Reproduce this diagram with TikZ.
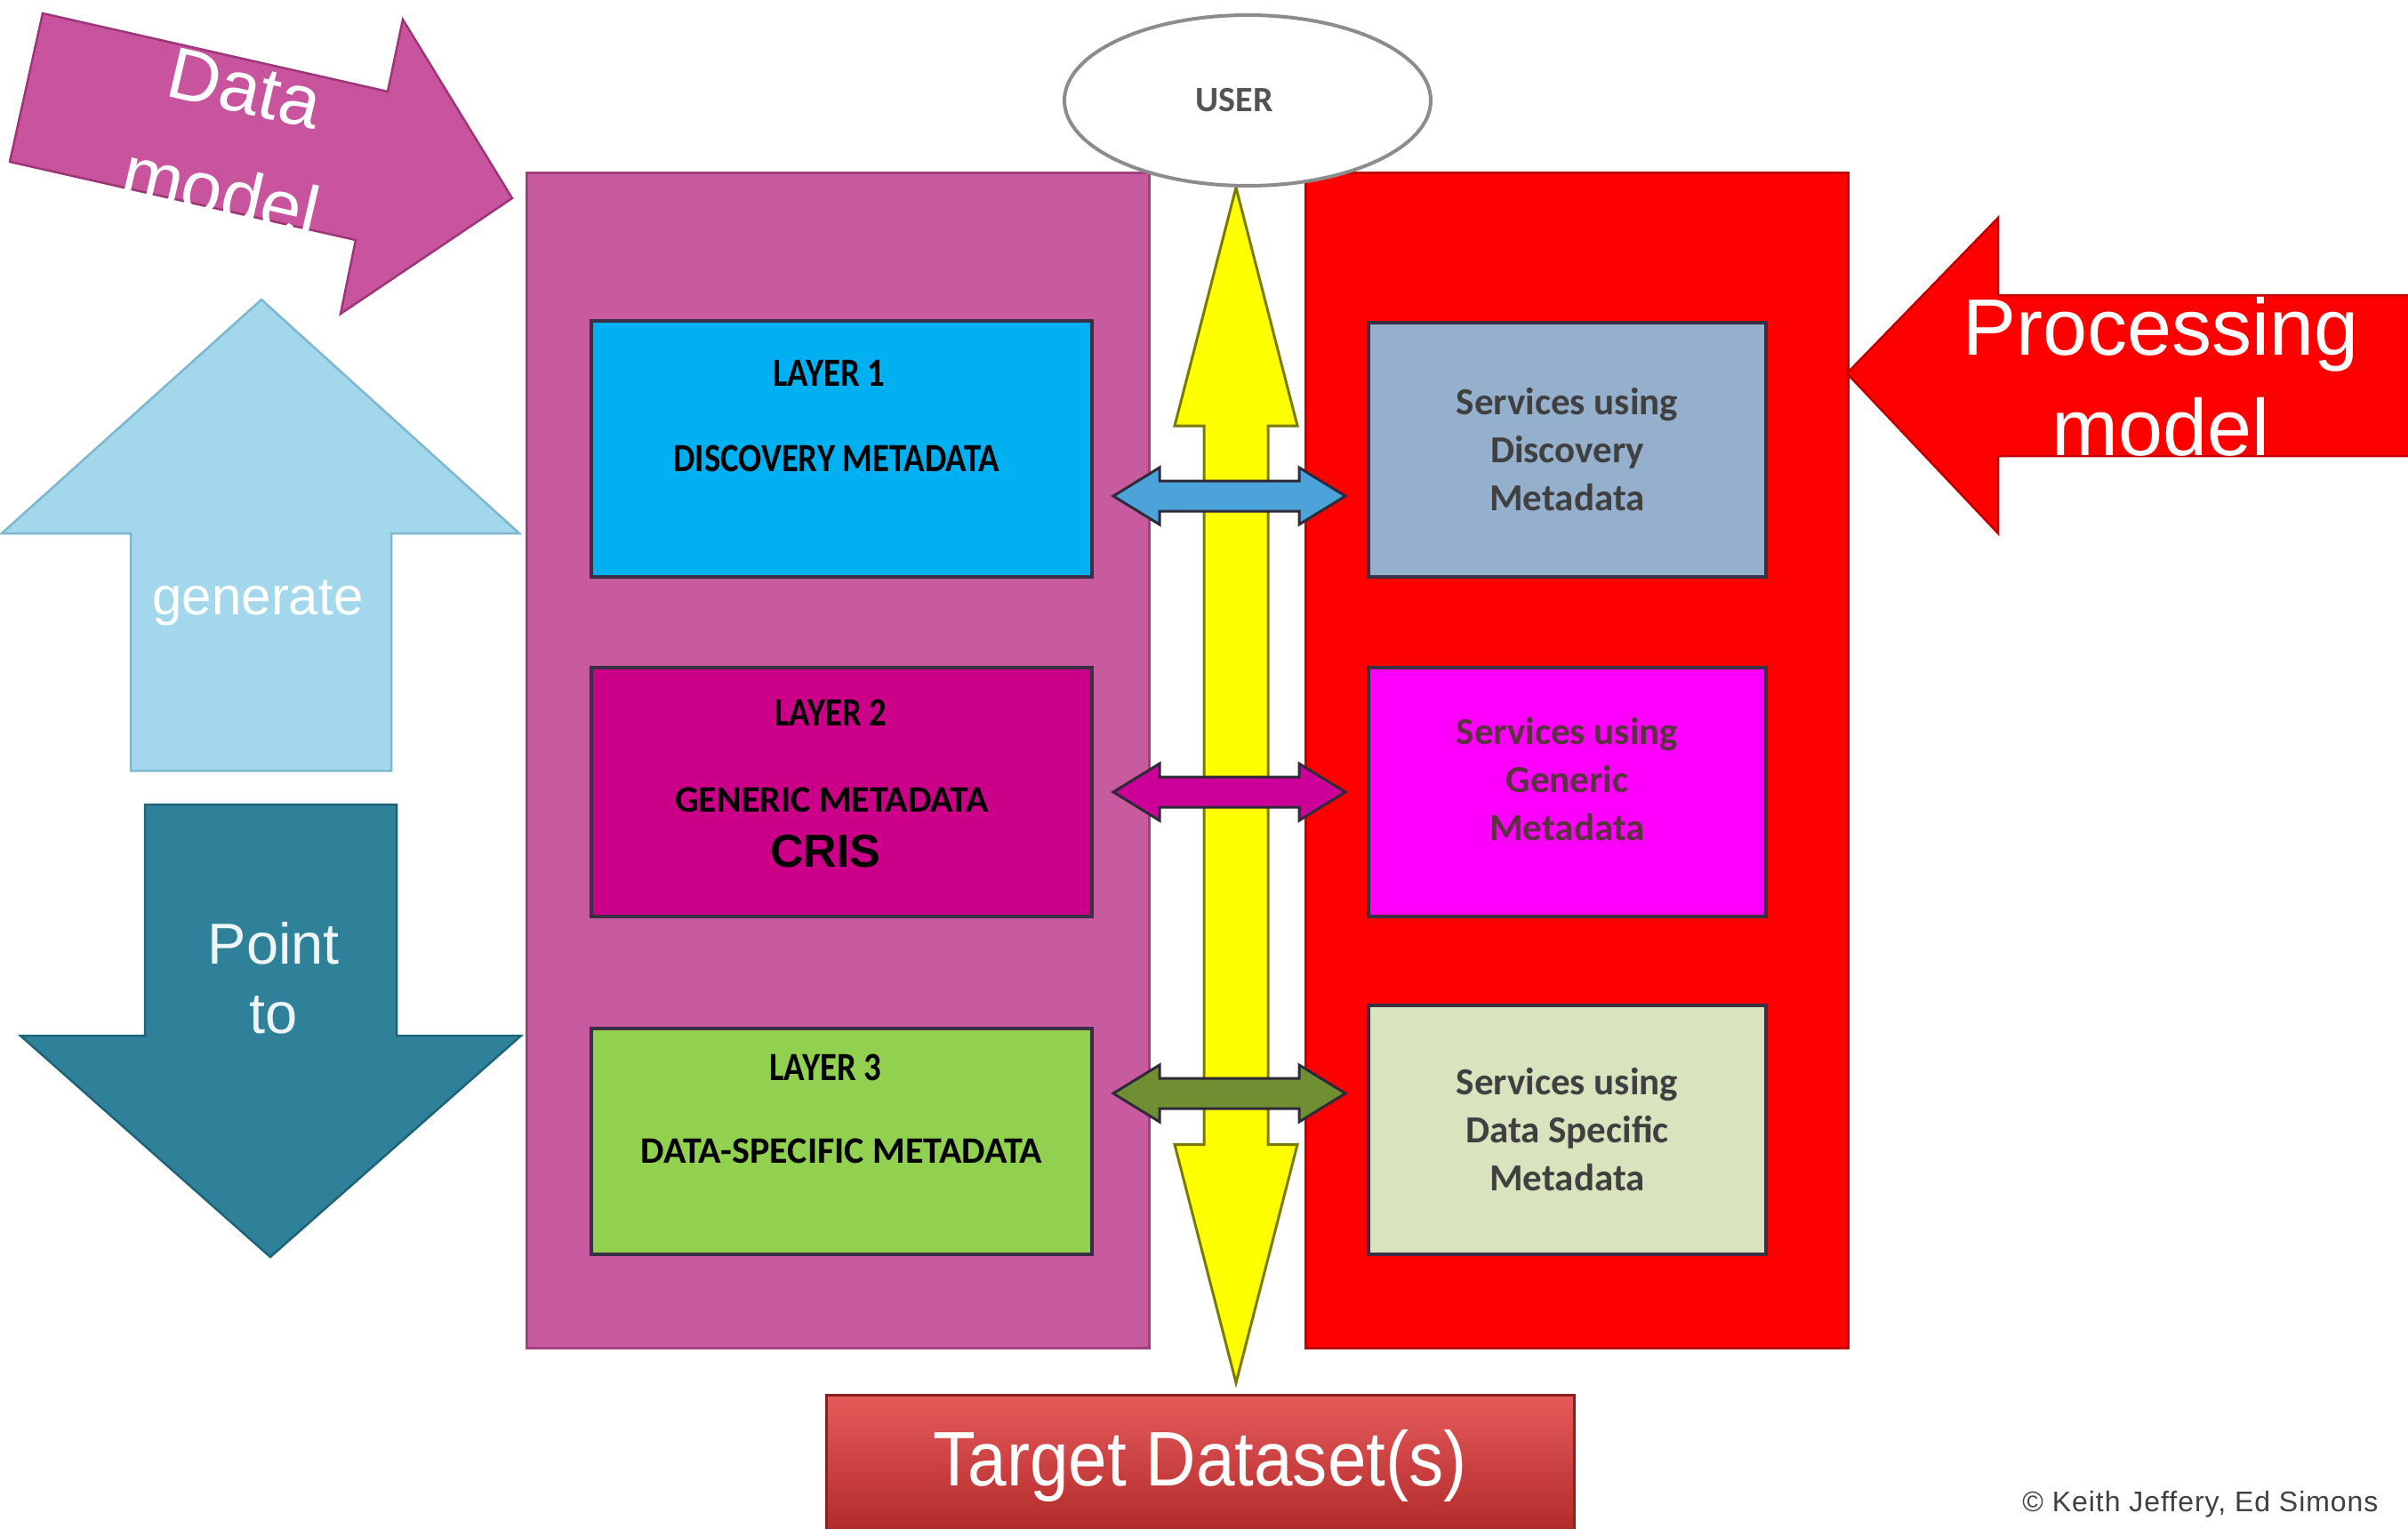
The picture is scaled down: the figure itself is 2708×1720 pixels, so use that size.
\documentclass[tikz,border=0pt]{standalone}
\usepackage{fontspec}
\setmainfont{Liberation Sans}
\newfontfamily\calfont{Carlito}
\newfontfamily\calcond[FakeStretch=0.86]{Carlito}
\newfontfamily\narrowfont[FakeStretch=0.9]{Liberation Sans}
\usetikzlibrary{calc,shapes.geometric}

\definecolor{panelpink}{HTML}{C85AA0}
\definecolor{panelpinkedge}{HTML}{A23F7F}
\definecolor{panelred}{HTML}{FF0000}
\definecolor{panelrededge}{HTML}{C00000}
\definecolor{dmarrow}{HTML}{C9549E}
\definecolor{dmedge}{HTML}{9E3579}
\definecolor{genblue}{HTML}{A3D8EC}
\definecolor{genedge}{HTML}{7DB6CE}
\definecolor{ptteal}{HTML}{2E8199}
\definecolor{ptedge}{HTML}{1D6479}
\definecolor{layone}{HTML}{00B0F0}
\definecolor{laytwo}{HTML}{CC0088}
\definecolor{laythree}{HTML}{92D050}
\definecolor{svcone}{HTML}{95B0CC}
\definecolor{svctwo}{HTML}{FF00FF}
\definecolor{svcthree}{HTML}{D7E4BD}
\definecolor{boxedge}{HTML}{3A2F45}
\definecolor{svctext}{HTML}{404040}
\definecolor{yfill}{HTML}{FFFF00}
\definecolor{yedge}{HTML}{7A7A00}
\definecolor{lkblue}{HTML}{4BA3D9}
\definecolor{lkmag}{HTML}{CC0099}
\definecolor{lkgreen}{HTML}{6F8F32}
\definecolor{linkedge}{HTML}{2F2A3A}
\definecolor{tgtop}{HTML}{E65A5A}
\definecolor{tgbottom}{HTML}{B02828}
\definecolor{tgedge}{HTML}{8E1F1F}
\definecolor{userline}{HTML}{8C8C8C}

\pgfdeclarelayer{background}
\pgfsetlayers{background,main}

% double-headed horizontal link between a layer and its services
\newcommand\linkarrow[3]{%
  \path[linkstyle,fill=#3]
    (#1) -- ($(#1)+(52,-32)$) -- ($(#1)+(52,-17)$)
    -- ($(#2)+(-52,-17)$) -- ($(#2)+(-52,-32)$) -- (#2)
    -- ($(#2)+(-52,32)$) -- ($(#2)+(-52,17)$)
    -- ($(#1)+(52,17)$) -- ($(#1)+(52,32)$) -- cycle;}

\begin{document}
\begin{tikzpicture}[x=1pt, y=-1pt,
  panel/.style={rectangle, inner sep=0pt, line width=3pt},
  layerbox/.style={rectangle, inner sep=0pt, draw=boxedge, line width=4pt,
    minimum width=563pt},
  svcfont/.style={align=center, text=svctext,
    font=\calfont\bfseries\fontsize{43}{54}\selectfont},
  svcbox/.style={rectangle, inner sep=0pt, draw=boxedge, line width=4pt,
    minimum width=447pt, minimum height=280pt, svcfont},
  laytitle/.style={anchor=base, font=\calcond\bfseries\fontsize{45}{50}\selectfont},
  laysub/.style={anchor=base, font=\calfont\bfseries\fontsize{42}{50}\selectfont},
  bigarrow/.style={line width=2.5pt, line join=miter},
  linkstyle/.style={draw=linkedge, line width=3pt, line join=miter},
  arrowtext/.style={text=white, align=center, inner sep=0pt},
]
\useasboundingbox (0,0) rectangle (2708,1720);

% the two columns
\node[panel, fill=panelpink, draw=panelpinkedge, minimum width=700pt,
  minimum height=1321pt] (datapanel) at (942,855.5) {};
\node[panel, fill=panelred, draw=panelrededge, minimum width=610pt,
  minimum height=1321pt] (procpanel) at (1773,855.5) {};

% metadata layers
\node[layerbox, fill=layone, minimum height=288pt] (L1) at (946.5,505) {};
\node[layerbox, fill=laytwo, minimum height=280pt] (L2) at (946.5,891) {};
\node[layerbox, fill=laythree, minimum height=254pt] (L3) at (946.5,1284) {};

\node[laytitle] (L1t) at ($(L1.north)+(-14,75)$) {LAYER 1};
\node[laytitle] (L1s) at ($(L1.north)+(-6,171)$) {DISCOVERY METADATA};
\node[laytitle] (L2t) at ($(L2.north)+(-12,67)$) {LAYER 2};
\node[laysub] (L2s) at ($(L2.north)+(-11,164)$) {GENERIC METADATA};
\node[anchor=base, font=\bfseries\fontsize{52}{56}\selectfont]
  (L2c) at ($(L2.north)+(-18,226)$) {CRIS};
\node[laytitle] (L3t) at ($(L3.north)+(-18,60)$) {LAYER 3};
\node[laysub] (L3s) at ($(L3.north)+(0,153)$) {DATA-SPECIFIC METADATA};

% services
\node[svcbox, fill=svcone, minimum height=286pt] (S1) at (1762.5,506)
  {Services using\\Discovery\\Metadata};
\node[svcbox, fill=svctwo] (S2) at (1762.5,891) {};
\node[svcfont, text=svctext!80!purple] (S2t) at ($(S2.center)+(0,-14)$)
  {Services using\\Generic\\Metadata};
\node[svcbox, fill=svcthree] (S3) at (1762.5,1271)
  {Services using\\Data Specific\\Metadata};

% data model arrow
\path[bigarrow, fill=dmarrow, draw=dmedge]
  (48,15) -- (436,103) -- (453,22) -- (576,223) -- (383,353) -- (400,270)
  -- (11,182) -- cycle;
\node[arrowtext, rotate=-13, font=\fontsize{82}{120}\selectfont]
  (dmtext) at (262,158) {Data\\model};

% generate arrow
\path[bigarrow, fill=genblue, draw=genedge]
  (294,337) -- (584,600) -- (440,600) -- (440,867) -- (147,867)
  -- (147,600) -- (2,600) -- cycle;
\node[anchor=base, text=white, font=\fontsize{60}{70}\selectfont]
  (gentext) at (290,691) {generate};

% point-to arrow
\path[bigarrow, fill=ptteal, draw=ptedge]
  (163,905) -- (446,905) -- (446,1165) -- (586,1165) -- (304,1414)
  -- (23,1165) -- (163,1165) -- cycle;
\node[arrowtext, text=white!92!ptteal, font=\fontsize{65}{78}\selectfont]
  (pttext) at (308,1100) {Point\\to};

% processing model arrow
\path[bigarrow, fill=panelred, draw=panelrededge]
  (2077,420) -- (2247,245) -- (2247,332) -- (2712,332) -- (2712,513)
  -- (2247,513) -- (2247,600) -- cycle;
\node[arrowtext, font=\fontsize{90}{113}\selectfont]
  (pmtext) at (2430,424) {Processing\\model};

% user and target
\node[ellipse, fill=white, draw=userline, line width=4pt, inner sep=0pt,
  minimum width=412pt, minimum height=192pt, text=svctext!90!white,
  font=\calfont\bfseries\fontsize{40}{44}\selectfont]
  (user) at (1403,113) {\hspace*{-30pt}USER};
\node[rectangle, top color=tgtop, bottom color=tgbottom, draw=tgedge,
  line width=3pt, inner sep=0pt, minimum width=841pt, minimum height=160pt,
  text=white, font=\narrowfont\fontsize{87}{90}\selectfont]
  (target) at (1349.5,1649) {Target Dataset(s)};

% access path from the user down to the target datasets
\coordinate (yt) at ($(user.south)+(-13,0)$);
\coordinate (yb) at ($(yt |- target.north)+(0,-12)$);
\begin{pgfonlayer}{background}
\path[fill=yfill, draw=yedge, line width=3pt, line join=miter]
  (yt) -- ($(yt)+(69,268)$) -- ($(yt)+(36,268)$) -- ($(yb)+(36,-268)$)
  -- ($(yb)+(69,-268)$) -- (yb) -- ($(yb)+(-69,-268)$) -- ($(yb)+(-36,-268)$)
  -- ($(yt)+(-36,268)$) -- ($(yt)+(-69,268)$) -- cycle;
\end{pgfonlayer}

% links between layers and services
\coordinate (a1l) at ($(L1.east)+(22,53)$);
\coordinate (a1r) at ($(a1l -| S1.west)+(-24,0)$);
\coordinate (a2l) at ($(L2.east)+(22,0)$);
\coordinate (a2r) at ($(a2l -| S2.west)+(-24,0)$);
\coordinate (a3l) at ($(L3.east)+(22,-54)$);
\coordinate (a3r) at ($(a3l -| S3.west)+(-24,0)$);
\linkarrow{a1l}{a1r}{lkblue}
\linkarrow{a2l}{a2r}{lkmag}
\linkarrow{a3l}{a3r}{lkgreen}

% credit line
\node[anchor=base east, text=svctext,
  font=\addfontfeature{LetterSpace=3}\fontsize{32}{36}\selectfont]
  (credit) at (2678,1700) {© Keith Jeffery, Ed Simons};
\end{tikzpicture}
\end{document}
